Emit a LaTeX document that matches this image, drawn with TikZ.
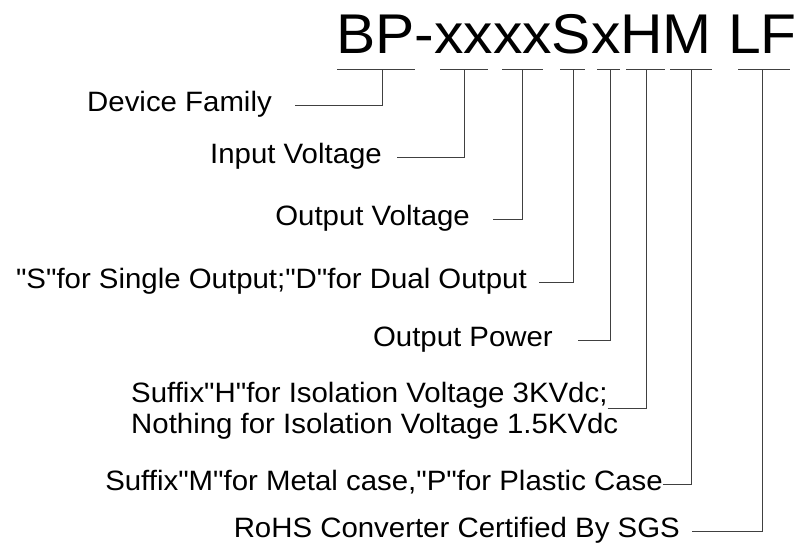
\documentclass[tikz,border=0pt]{standalone}
\usepackage{fontspec}
\setmainfont{Liberation Sans}
\newfontfamily\partfont[FakeStretch=1.05,Ligatures=TeXOff]{Liberation Sans}
\usetikzlibrary{positioning}

\begin{document}
\begin{tikzpicture}[x=1pt,y=-1pt,every node/.style={font=\partfont\fontsize{28}{31}\selectfont,inner sep=0pt},
  lbl/.style={anchor=east,text height=20pt,text depth=8pt,inner xsep=#1},lbl/.default=0pt,
  wire/.style={draw=black!75,line width=1pt}]
\useasboundingbox (0,0) rectangle (803,551);
\node[anchor=base west,font=\partfont\fontsize{56}{60}\selectfont] (code) at (336,53) {BP-xxxxSxHM LF};
% underline bars and their tick points
\foreach \a/\b/\t [count=\i] in {337/415/382,440/488/464,502/543/522,560/585/573,597/620/610,626/665/646,670/712/691,738/790/762}{
  \draw[wire] (\a,70)--(\b,70);
  \coordinate (t\i) at (\t,70);
}
\node[lbl=23pt] (family) at (295,105) {Device Family};
\node[lbl=15pt] (vin) at (397,157) {Input Voltage};
\node[lbl=23pt] (vout) at (493,219) {Output Voltage};
\node[lbl=12pt] (outs) at (539,282) {"S"for Single Output;"D"for Dual Output};
\node[lbl=25pt] (power) at (578,340) {Output Power};
\node[anchor=base west,text depth=6pt] (iso) at (131,402) {Suffix"H"for Isolation Voltage 3KVdc;};
\node[anchor=base west] (isob) at (131,433) {Nothing for Isolation Voltage 1.5KVdc};
\node[lbl] (casing) at (663,484) {Suffix"M"for Metal case,"P"for Plastic Case};
\node[lbl=12pt] (rohs) at (692,531) {RoHS Converter Certified By SGS};
\draw[wire] (family.east) -| (t1);\draw[wire] (vin.east) -| (t2);\draw[wire] (vout.east) -| (t3);
\draw[wire] (outs.east) -| (t4);\draw[wire] (power.east) -| (t5);\draw[wire] (iso.south east) -| (t6);
\draw[wire] (casing.east) -| (t7);\draw[wire] (rohs.east) -| (t8);
\end{tikzpicture}
\end{document}
